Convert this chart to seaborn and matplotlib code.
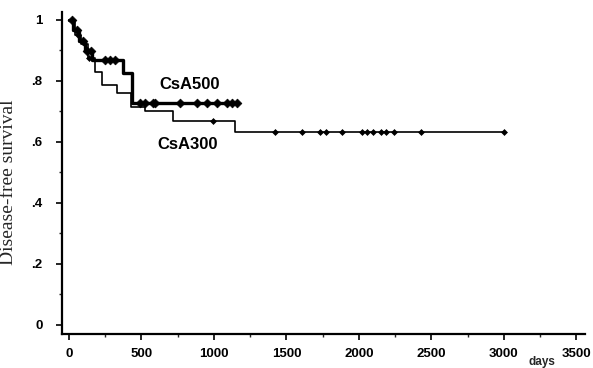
import numpy as np
import pandas as pd
import matplotlib
matplotlib.use("Agg")
import matplotlib.pyplot as plt
import seaborn as sns
from matplotlib.ticker import MultipleLocator, FixedLocator

# step curves (days, survival)
t500 = [0, 30, 70, 110, 160, 373, 432, 1157]
s500 = [1.0, 0.966, 0.931, 0.897, 0.868, 0.826, 0.726, 0.726]
t300 = [0, 40, 80, 130, 180, 225, 329, 425, 524, 720, 1146, 3000]
s300 = [1.0, 0.95, 0.92, 0.874, 0.830, 0.787, 0.760, 0.716, 0.700, 0.670, 0.634, 0.634]

# censored observations (days)
c500 = [20, 55, 95, 125, 150, 250, 285, 315, 490, 525, 580, 595, 765, 880,
        950, 1020, 1090, 1125, 1157]
c300 = [65, 140, 995, 1420, 1610, 1730, 1770, 1880, 2020, 2055, 2100, 2150,
        2190, 2240, 2430, 3000]

xticks = [0, 500, 1000, 1500, 2000, 2500, 3000, 3500]
yticks = [0, 0.2, 0.4, 0.6, 0.8, 1.0]
ytick_labels = ["0", ".2", ".4", ".6", ".8", "1"]


def step_value(t, s, x):
    # survival value of the step function at time x
    idx = np.searchsorted(t, x, side="right") - 1
    return np.array(s)[idx]


df_curve = pd.concat([
    pd.DataFrame({"days": t500, "surv": s500, "group": "CsA500"}),
    pd.DataFrame({"days": t300, "surv": s300, "group": "CsA300"}),
], ignore_index=True)

df_cens = pd.concat([
    pd.DataFrame({"days": c500, "surv": step_value(t500, s500, c500), "group": "CsA500"}),
    pd.DataFrame({"days": c300, "surv": step_value(t300, s300, c300), "group": "CsA300"}),
], ignore_index=True)

sns.set_style("white")
plt.rcParams["font.family"] = ["Liberation Sans", "DejaVu Sans"]

fig = plt.figure(figsize=(5.93, 3.68), dpi=100)
ax = fig.add_axes([0.1046, 0.0924, 0.882, 0.875])

widths = {"CsA500": 2.4, "CsA300": 1.2}
sizes = {"CsA500": 20, "CsA300": 9}
for g in ["CsA300", "CsA500"]:
    sns.lineplot(data=df_curve[df_curve["group"] == g], x="days", y="surv",
                 drawstyle="steps-post", estimator=None, sort=False,
                 color="black", linewidth=widths[g], ax=ax, legend=False)
    sns.scatterplot(data=df_cens[df_cens["group"] == g], x="days", y="surv",
                    marker="D", s=sizes[g], color="black", edgecolor="black",
                    linewidth=0.5, ax=ax, legend=False, zorder=3)

ax.set_xlim(-48, 3560)
ax.set_ylim(-0.03, 1.026)

ax.xaxis.set_major_locator(FixedLocator(xticks))
ax.xaxis.set_minor_locator(MultipleLocator(250))
ax.yaxis.set_major_locator(FixedLocator(yticks))
ax.yaxis.set_minor_locator(MultipleLocator(0.1))
ax.set_yticklabels(ytick_labels)
ax.set_xticklabels([str(v) for v in xticks])

ax.tick_params(axis="both", which="major", direction="out", length=4, width=1.2,
               labelsize=9.5, colors="black", bottom=True, left=True)
ax.tick_params(axis="both", which="minor", direction="out", length=2.5, width=1.0,
               bottom=True, left=True)
for lab in ax.get_xticklabels() + ax.get_yticklabels():
    lab.set_fontweight("bold")
ax.tick_params(axis="y", pad=10)
ax.tick_params(axis="x", pad=6)

for side in ["top", "right"]:
    ax.spines[side].set_visible(False)
for side in ["left", "bottom"]:
    ax.spines[side].set_color("black")
    ax.spines[side].set_linewidth(1.6)

ax.set_xlabel("")
ax.set_ylabel("Disease-free survival", family=["Liberation Serif", "DejaVu Serif"],
              fontsize=14)
ax.yaxis.set_label_coords(-0.086, 0.47)

ax.text(835, 0.787, "CsA500", fontsize=12, fontweight="bold", color="black",
        ha="center", va="center")
ax.text(821, 0.593, "CsA300", fontsize=12, fontweight="bold", color="black",
        ha="center", va="center")
fig.text(542 / 593, 1 - 362 / 368, "days", fontsize=8.5, fontweight="bold",
         ha="center", va="center")

fig.savefig("out.png", dpi=100)
